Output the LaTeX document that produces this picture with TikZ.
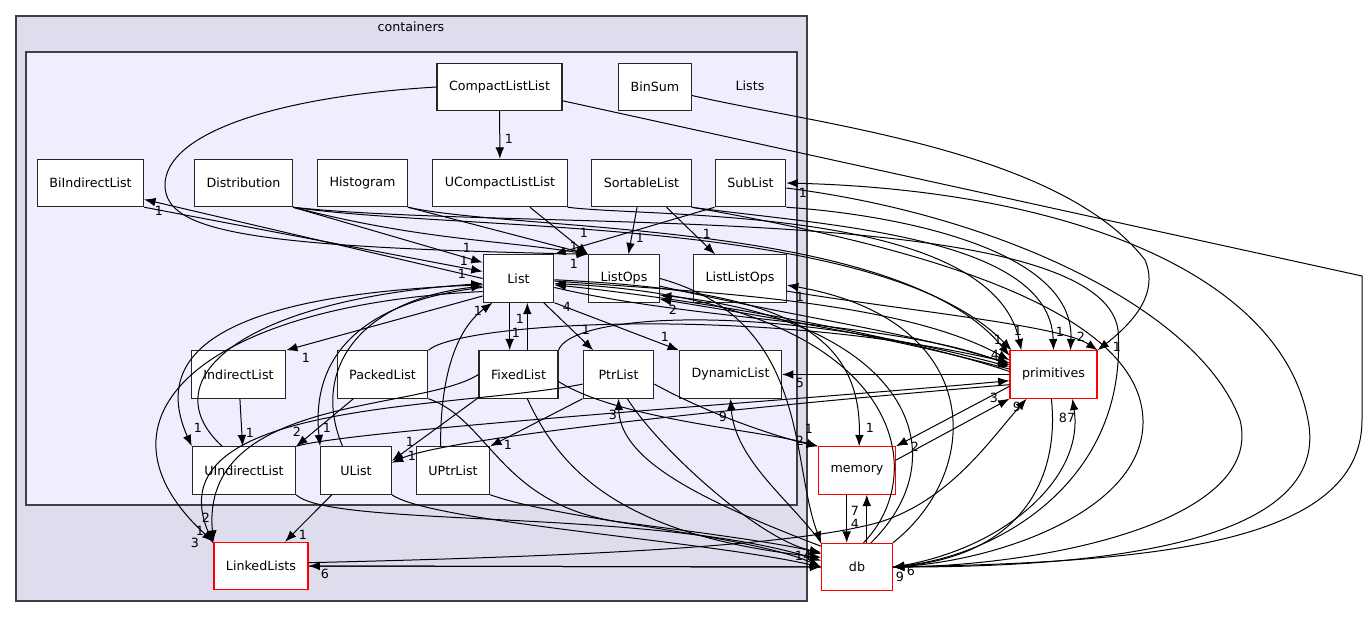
\documentclass[tikz,border=0pt]{standalone}
\usepackage{fontspec}
\setmainfont{DejaVu Sans}
\usetikzlibrary{arrows.meta}
\definecolor{outerfill}{HTML}{DDDDEE}
\definecolor{innerfill}{HTML}{EEEEFF}
\definecolor{frameline}{HTML}{404040}

\begin{document}
\begin{tikzpicture}[x=0.75pt, y=-0.75pt, >={Latex[length=8.5pt,width=6.5pt]},
  every node/.style={font=\fontsize{9.5}{11}\selectfont},
  dirbox/.style={draw=black!85, fill=white, line width=0.85pt, minimum width=53pt, minimum height=35.5pt, inner xsep=9pt},
  extbox/.style={dirbox, draw=red},
  dep/.style={->, line width=0.75pt},
  lbl/.style={inner sep=0pt}]
  \useasboundingbox (0,0) rectangle (1368,617);

  % clusters
  \draw[frameline, fill=outerfill, line width=0.85pt] (16,16) rectangle (807,601);
  \node (containers) at (411,27) {containers};
  \draw[frameline, fill=innerfill, line width=0.85pt] (26,52) rectangle (797,505);
  \node (lists) at (750,86) {Lists};

  % directories
  \node[dirbox] (cll) at (499.5,87) {CompactListList};
  \node[dirbox] (binsum) at (655,87) {BinSum};
  \node[dirbox] (biind) at (90.5,183) {BiIndirectList};
  \node[dirbox] (distrib) at (243.5,183) {Distribution};
  \node[dirbox] (histo) at (362.5,183) {Histogram};
  \node[dirbox] (ucll) at (500,183) {UCompactListList};
  \node[dirbox] (sortable) at (641.5,183) {SortableList};
  \node[dirbox] (sublist) at (750.5,183) {SubList};
  \node[dirbox] (list) at (518.5,278.5) {List};
  \node[dirbox] (listops) at (624,278.5) {ListOps};
  \node[dirbox] (listlistops) at (740,278.5) {ListListOps};
  \node[dirbox] (indirect) at (238.5,374.5) {IndirectList};
  \node[dirbox] (packed) at (382.5,374.5) {PackedList};
  \node[dirbox] (fixed) at (518.5,374.5) {FixedList};
  \node[dirbox] (ptrlist) at (618.5,374.5) {PtrList};
  \node[dirbox] (dynamic) at (730.5,374.5) {DynamicList};
  \node[dirbox] (uindirect) at (244,470.5) {UIndirectList};
  \node[dirbox] (ulist) at (356,470.5) {UList};
  \node[dirbox] (uptrlist) at (453,470.5) {UPtrList};
  \node[extbox] (linked) at (261,566) {LinkedLists};
  \node[extbox] (prim) at (1053.5,374.5) {primitives};
  \node[extbox] (memory) at (857,470.5) {memory};
  \node[extbox] (db) at (857,567) {db};

  % upper row
  \draw[dep] (cll) -- (ucll) node[lbl] at (509,139) {1};
  \draw[dep] (cll.west) .. controls (270,97) and (165,135) .. (165,185) .. controls (165,232) and (250,247) .. (listops.north west) node[lbl] at (574,247) {1};
  \draw[dep] (cll) -- (1362,276) -- (1362,420) .. controls (1362,545) and (1150,562) .. (db.east) node[lbl] at (911,571) {6};
  \draw[dep] (binsum) .. controls (820,125) and (1060,150) .. (1145,260) .. controls (1160,295) and (1130,325) .. (prim.north east) node[lbl] at (1117,347) {1};
  \draw[dep] (list.west) -- (biind.-17) node[lbl] at (159,211) {1};
  \draw[dep] (biind.south east) -- (list.169) node[lbl] at (464,261) {1};
  \draw[dep] (distrib.south east) -- (list.156) node[lbl] at (467,248) {1};
  \draw[dep] (distrib.south east) .. controls (420,240) and (500,240) .. (listops.north west);
  \draw[dep] (distrib.south east) .. controls (460,232) and (880,215) .. (prim.150) node[lbl] at (998,340) {1};
  \draw[dep] (distrib.south east) .. controls (520,232) and (1100,200) .. (1118,330) .. controls (1128,480) and (1000,555) .. (db.east);
  \draw[dep] (histo.south east) -- (listops.north west) node[lbl] at (574,264) {1};
  \draw[dep] (histo.south east) .. controls (520,232) and (900,220) .. (prim.157) node[lbl] at (995,355) {4};
  \draw[dep] (ucll) -- (listops.north west) node[lbl] at (584,233) {1};
  \draw[dep] (ucll.south east) .. controls (650,218) and (990,205) .. (prim.143) node[lbl] at (1018,331) {1};
  \draw[dep] (sortable) -- (listops) node[lbl] at (640,238) {1};
  \draw[dep] (sortable) -- (listlistops) node[lbl] at (707,234) {1};
  \draw[dep] (sortable.south east) .. controls (820,225) and (1050,235) .. (prim.north) node[lbl] at (1060,332) {1};
  \draw[dep] (sortable.south east) .. controls (880,240) and (1140,300) .. (1143,420) .. controls (1145,510) and (1000,560) .. (db.east);
  \draw[dep] (sublist.south west) -- (list.north east);
  \draw[dep] (sublist.south east) .. controls (900,215) and (1075,250) .. (prim.55) node[lbl] at (1081,337) {2};
  \draw[dep] (sublist.-8) .. controls (1000,215) and (1200,310) .. (1240,420) .. controls (1265,520) and (1050,565) .. (db.east);
  \draw[dep] (db.east) .. controls (1150,568) and (1330,530) .. (1308,420) .. controls (1280,270) and (1060,190) .. (sublist.east) node[lbl] at (803,193) {1};
  \draw[dep] (db.north east) .. controls (985,470) and (985,320) .. (listlistops.-8) node[lbl] at (800,297) {1};
  \draw[dep] (listlistops.-15) .. controls (900,310) and (1060,325) .. (prim.north east);

  % middle rows
  \draw[dep] (list.-110) -- (fixed.110) node[lbl] at (516,333) {1};
  \draw[dep] (fixed.70) -- (list.-70) node[lbl] at (520,319) {1};
  \draw[dep] (list) -- (ptrlist) node[lbl] at (586,330) {1};
  \draw[dep] (list.south east) -- (dynamic.north west) node[lbl] at (665,337) {1};
  \draw[dep] (list.206) -- (indirect.north east) node[lbl] at (306,358) {1};
  \draw[dep] (list.190) .. controls (280,292) and (140,330) .. (uindirect.north west) node[lbl] at (198,428) {1};
  \draw[dep] (list.194) .. controls (370,300) and (310,350) .. (ulist.north west) node[lbl] at (327,428) {1};
  \draw[dep] (uindirect.132) .. controls (150,380) and (240,300) .. (list.188) node[lbl] at (462,274) {1};
  \draw[dep] (ulist.119) .. controls (310,370) and (360,300) .. (list.192);
  \draw[dep] (uptrlist.117) .. controls (440,380) and (455,330) .. (list.-137) node[lbl] at (478,311) {1};
  \draw[dep] (list.200) .. controls (200,305) and (80,420) .. (linked.north west) node[lbl] at (195,543) {3};
  \draw[dep] (indirect) -- (uindirect) node[lbl] at (250,433) {1};
  \draw[dep] (packed) -- (uindirect.north east) node[lbl] at (297,432) {2};
  \draw[dep] (packed.north east) .. controls (460,322) and (760,305) .. (prim.165);
  \draw[dep] (packed.south east) .. controls (490,420) and (500,505) .. (620,522) .. controls (720,535) and (790,545) .. (db.160);
  \draw[dep] (fixed.-150) -- (ulist.15) node[lbl] at (410,442) {1};
  \draw[dep] (fixed.north east) .. controls (570,315) and (760,300) .. (prim.170);
  \draw[dep] (fixed.west) .. controls (420,412) and (200,395) .. (linked.north west) node[lbl] at (200,531) {1};
  \draw[dep] (fixed.-70) .. controls (560,470) and (620,535) .. (db.165);
  \draw[dep] (fixed.-10) .. controls (620,420) and (760,430) .. (memory.north west) node[lbl] at (800,441) {2};
  \draw[dep] (ptrlist.-15) .. controls (720,420) and (790,440) .. (memory.north west) node[lbl] at (809,429) {1};
  \draw[dep] (ptrlist.south west) -- (uptrlist.north east) node[lbl] at (508,445) {1};
  \draw[dep] (ptrlist.-70) .. controls (660,450) and (760,540) .. (db.158);
  \draw[dep] (ptrlist.-165) .. controls (450,410) and (150,400) .. (linked.155) node[lbl] at (206,518) {2};
  \draw[dep] (uptrlist.south east) .. controls (560,520) and (750,535) .. (db.west);
  \draw[dep] (ulist) -- (linked) node[lbl] at (303,535) {1};
  \draw[dep] (ulist.south east) .. controls (430,522) and (700,540) .. (db.west);
  \draw[dep] (uindirect.south east) .. controls (330,528) and (650,508) .. (db.170);
  \draw[dep] (uindirect.north east) .. controls (350,430) and (800,400) .. (prim.188);
  \draw[dep] (prim.193) .. controls (800,402) and (450,436) .. (ulist.12) node[lbl] at (412,456) {1};

  % outside
  \draw[dep] (prim.west) -- (dynamic.east) node[lbl] at (800,383) {5};
  \draw[dep] (db.north west) .. controls (790,500) and (735,460) .. (dynamic.south) node[lbl] at (723,417) {9};
  \draw[dep] (db.150) .. controls (700,500) and (620,460) .. (ptrlist.south) node[lbl] at (613,415) {3};
  \draw[dep] (db.75) .. controls (935,470) and (900,300) .. (list.-8) node[lbl] at (567,307) {4};
  \draw[dep] (db.60) .. controls (965,450) and (900,320) .. (listops.-25) node[lbl] at (673,310) {2};
  \draw[dep] (list.-4) .. controls (700,292) and (900,300) .. (prim.162);
  \draw[dep] (list.-14) .. controls (700,322) and (900,322) .. (prim.168);
  \draw[dep] (prim.176) .. controls (900,335) and (700,300) .. (list.-10);
  \draw[dep] (listops.-12) .. controls (800,318) and (900,330) .. (prim.166);
  \draw[dep] (prim.173) .. controls (900,340) and (800,322) .. (listops.-30);
  \draw[dep] (list.-2) .. controls (760,290) and (862,320) .. (memory.85) node[lbl] at (870,428) {1};
  \draw[dep] (listops.east) .. controls (810,320) and (790,460) .. (db.north west);
  \draw[dep] (prim.-165) -- (memory.north east) node[lbl] at (915,447) {2};
  \draw[dep] (memory.15) -- (prim.south west) node[lbl] at (994,398) {3};
  \draw[dep] (memory.-113) -- (db.113) node[lbl] at (855,524) {4};
  \draw[dep] (db.68) -- (memory.-68) node[lbl] at (855,511) {7};
  \draw[dep] (db.east) .. controls (1000,552) and (1085,480) .. (prim.-52) node[lbl] at (1067,418) {87};
  \draw[dep] (prim.-95) .. controls (1060,480) and (1020,555) .. (db.east) node[lbl] at (900,577) {9};
  \draw[dep] (db.west) -- (linked.east) node[lbl] at (325,574) {6};
  \draw[dep] (linked.east) -- (db.west) node[lbl] at (803,556) {14};
  \draw[dep] (linked.4) .. controls (600,556) and (800,545) .. (880,522) .. controls (950,500) and (990,440) .. (prim.-138) node[lbl] at (1017,407) {9};
\end{tikzpicture}
\end{document}
